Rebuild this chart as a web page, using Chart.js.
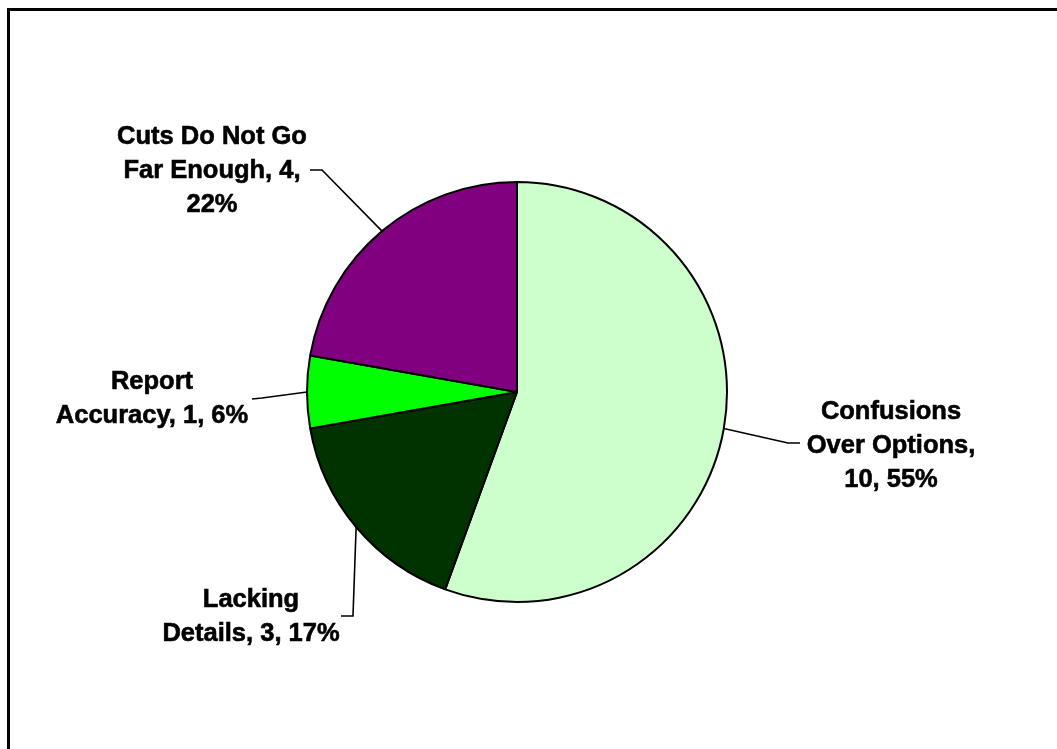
<!DOCTYPE html>
<html>
<head>
<meta charset="utf-8">
<script src="https://cdn.jsdelivr.net/npm/chart.js@4.4.0/dist/chart.umd.min.js"></script>
<style>
  html, body { margin: 0; padding: 0; background: #fff; overflow: hidden; }
  canvas { display: block; }
</style>
</head>
<body>
<canvas id="pie-chart" width="1057" height="749"></canvas>
<script>
const categories = ['Confusions Over Options', 'Lacking Details', 'Report Accuracy', 'Cuts Do Not Go Far Enough'];
const counts = [10, 3, 1, 4];
const shares = [55, 17, 6, 22];
const sliceColors = ['#CCFFCC', '#003300', '#00FF00', '#800080'];

// where each label sits: centre x, first baseline, wrap width, leader elbow + end
const labelLayout = [
    { x: 891, y: 419, wrap: 188, elbow: [788, 443], end: [800, 443] },
    { x: 251, y: 607, wrap: 186, elbow: [353, 616], end: [341, 616] },
    { x: 152, y: 389, wrap: 202, elbow: [262, 398], end: [252, 399] },
    { x: 212, y: 144, wrap: 212, elbow: [322, 170], end: [310, 170] }
];

const labelFont = 'bold 25.5px "Liberation Sans", Arial, sans-serif';
const lineHeight = 34;

function wrapText(ctx, text, maxWidth) {
    const words = text.split(' ');
    let lines = [];
    let cur = '';
    words.forEach(w => {
        const test = cur ? cur + ' ' + w : w;
        if (cur && ctx.measureText(test).width > maxWidth) {
            lines.push(cur);
            cur = w;
        } else {
            cur = test;
        }
    });
    if (cur) lines.push(cur);
    return lines;
}

const labelPlugin = {
    id: 'excelLabels',
    afterDraw(chart) {
        const ctx = chart.ctx;
        const meta = chart.getDatasetMeta(0);

        ctx.save();
        // outer frame of the chart object
        ctx.strokeStyle = '#000';
        ctx.lineWidth = 3;
        ctx.strokeRect(8.5, 9.5, 1200, 900);

        ctx.font = labelFont;
        ctx.fillStyle = '#000';
        ctx.textAlign = 'center';
        ctx.textBaseline = 'alphabetic';

        meta.data.forEach((arc, i) => {
            const p = arc.getProps(['x', 'y', 'startAngle', 'endAngle', 'outerRadius'], true);
            const mid = (p.startAngle + p.endAngle) / 2;
            const px = p.x + Math.cos(mid) * p.outerRadius;
            const py = p.y + Math.sin(mid) * p.outerRadius;
            const lay = labelLayout[i];

            ctx.lineWidth = 1.6;
            ctx.beginPath();
            ctx.moveTo(px, py);
            ctx.lineTo(lay.elbow[0], lay.elbow[1]);
            ctx.lineTo(lay.end[0], lay.end[1]);
            ctx.stroke();

            const text = `${categories[i]}, ${counts[i]}, ${shares[i]}%`;
            const lines = wrapText(ctx, text, lay.wrap);
            ctx.lineWidth = 0.6;
            lines.forEach((line, j) => {
                ctx.fillText(line, lay.x, lay.y + j * lineHeight);
                ctx.strokeText(line, lay.x, lay.y + j * lineHeight);
            });
        });
        ctx.restore();
    }
};

const pieCanvas = document.getElementById('pie-chart');
const chart = new Chart(pieCanvas.getContext('2d'), {
    type: 'pie',
    data: {
        labels: categories,
        datasets: [{
            data: counts,
            backgroundColor: sliceColors,
            borderColor: '#000',
            borderWidth: 2,
            radius: 210
        }]
    },
    options: {
        responsive: false,
        animation: false,
        devicePixelRatio: 1,
        layout: {
            padding: { left: 0, right: 23, top: 35, bottom: 0 }
        },
        plugins: {
            legend: { display: false },
            tooltip: { enabled: false }
        }
    },
    plugins: [labelPlugin]
});
</script>
</body>
</html>
